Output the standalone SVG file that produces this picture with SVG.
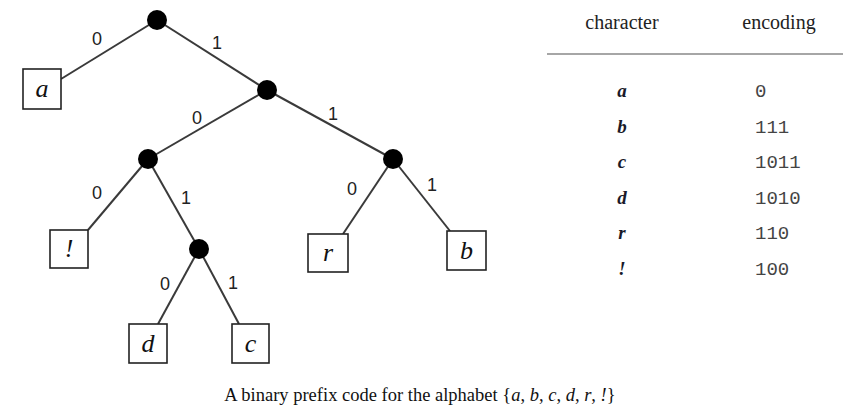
<svg xmlns="http://www.w3.org/2000/svg" width="843" height="407" viewBox="0 0 843 407">
<style>
.edge{stroke:#3a3a3a;stroke-width:2;fill:none}
.lbl{font-family:"Liberation Sans",Arial,sans-serif;font-size:18px;fill:#222;text-anchor:middle}
.box{fill:#fff;stroke:#222;stroke-width:1.6}
.leaf{font-family:"Liberation Serif","Times New Roman",serif;font-style:italic;font-size:26px;fill:#111;text-anchor:middle}
.dot{fill:#000}
.hdr{font-family:"Liberation Serif","Times New Roman",serif;font-size:20px;fill:#222;text-anchor:middle}
.ch{font-family:"Liberation Serif","Times New Roman",serif;font-style:italic;font-weight:bold;font-size:19px;fill:#1a1a2a;text-anchor:middle}
.enc{font-family:"Liberation Mono","Courier New",monospace;font-size:19px;fill:#444}
.cap{font-family:"Liberation Serif","Times New Roman",serif;font-size:18.5px;fill:#111;text-anchor:middle}
</style>
<rect width="843" height="407" fill="#fff"/>
<g id="connectors">
<line class="edge" x1="157" y1="20" x2="61" y2="79"/>
<line class="edge" x1="157" y1="20" x2="267" y2="90"/>
<line class="edge" x1="267" y1="90" x2="148" y2="159"/>
<line class="edge" x1="267" y1="90" x2="393" y2="159"/>
<line class="edge" x1="148" y1="159" x2="88" y2="230"/>
<line class="edge" x1="148" y1="159" x2="199" y2="249"/>
<line class="edge" x1="199" y1="249" x2="158" y2="324"/>
<line class="edge" x1="199" y1="249" x2="239" y2="324"/>
<line class="edge" x1="393" y1="159" x2="343" y2="234"/>
<line class="edge" x1="393" y1="159" x2="450" y2="231"/>
<text class="lbl" x="97" y="45">0</text>
<text class="lbl" x="217" y="49">1</text>
<text class="lbl" x="197" y="124">0</text>
<text class="lbl" x="333" y="120">1</text>
<text class="lbl" x="97" y="199">0</text>
<text class="lbl" x="186" y="204">1</text>
<text class="lbl" x="165" y="290">0</text>
<text class="lbl" x="233" y="289">1</text>
<text class="lbl" x="352" y="195">0</text>
<text class="lbl" x="432" y="191">1</text>
</g>
<g id="root"><circle class="dot" cx="157" cy="20" r="10"/></g>
<g id="n1"><circle class="dot" cx="267" cy="90" r="10"/></g>
<g id="n10"><circle class="dot" cx="148" cy="159" r="10"/></g>
<g id="n11"><circle class="dot" cx="393" cy="159" r="10"/></g>
<g id="n101"><circle class="dot" cx="199" cy="249" r="10"/></g>
<g id="leaf-a"><rect class="box" x="23" y="69" width="38" height="40"/><text class="leaf" x="42" y="97">a</text></g>
<g id="leaf-excl"><rect class="box" x="50" y="230" width="38" height="38"/><text class="leaf" x="69" y="257">!</text></g>
<g id="leaf-d"><rect class="box" x="129" y="324" width="38" height="39"/><text class="leaf" x="148" y="352">d</text></g>
<g id="leaf-c"><rect class="box" x="232" y="324" width="37" height="39"/><text class="leaf" x="250.5" y="352">c</text></g>
<g id="leaf-r"><rect class="box" x="308" y="234" width="40" height="38"/><text class="leaf" x="328" y="261">r</text></g>
<g id="leaf-b"><rect class="box" x="447" y="231" width="39" height="39"/><text class="leaf" x="466.5" y="259">b</text></g>
<g id="table">
<text class="hdr" x="622" y="29">character</text>
<text class="hdr" x="779" y="29">encoding</text>
<line x1="547" y1="54" x2="843" y2="54" stroke="#888" stroke-width="1.5"/>
<text class="ch" x="622" y="97">a</text><text class="enc" x="755" y="97">0</text>
<text class="ch" x="622" y="132.5">b</text><text class="enc" x="755" y="132.5">111</text>
<text class="ch" x="622" y="168">c</text><text class="enc" x="755" y="168">1011</text>
<text class="ch" x="622" y="203.5">d</text><text class="enc" x="755" y="203.5">1010</text>
<text class="ch" x="622" y="239">r</text><text class="enc" x="755" y="239">110</text>
<text class="ch" x="622" y="274.5">!</text><text class="enc" x="755" y="274.5">100</text>
</g>
<text class="cap" x="420" y="401">A binary prefix code for the alphabet {<tspan font-style="italic">a</tspan>, <tspan font-style="italic">b</tspan>, <tspan font-style="italic">c</tspan>, <tspan font-style="italic">d</tspan>, <tspan font-style="italic">r</tspan>, <tspan font-style="italic">!</tspan>}</text>
</svg>
